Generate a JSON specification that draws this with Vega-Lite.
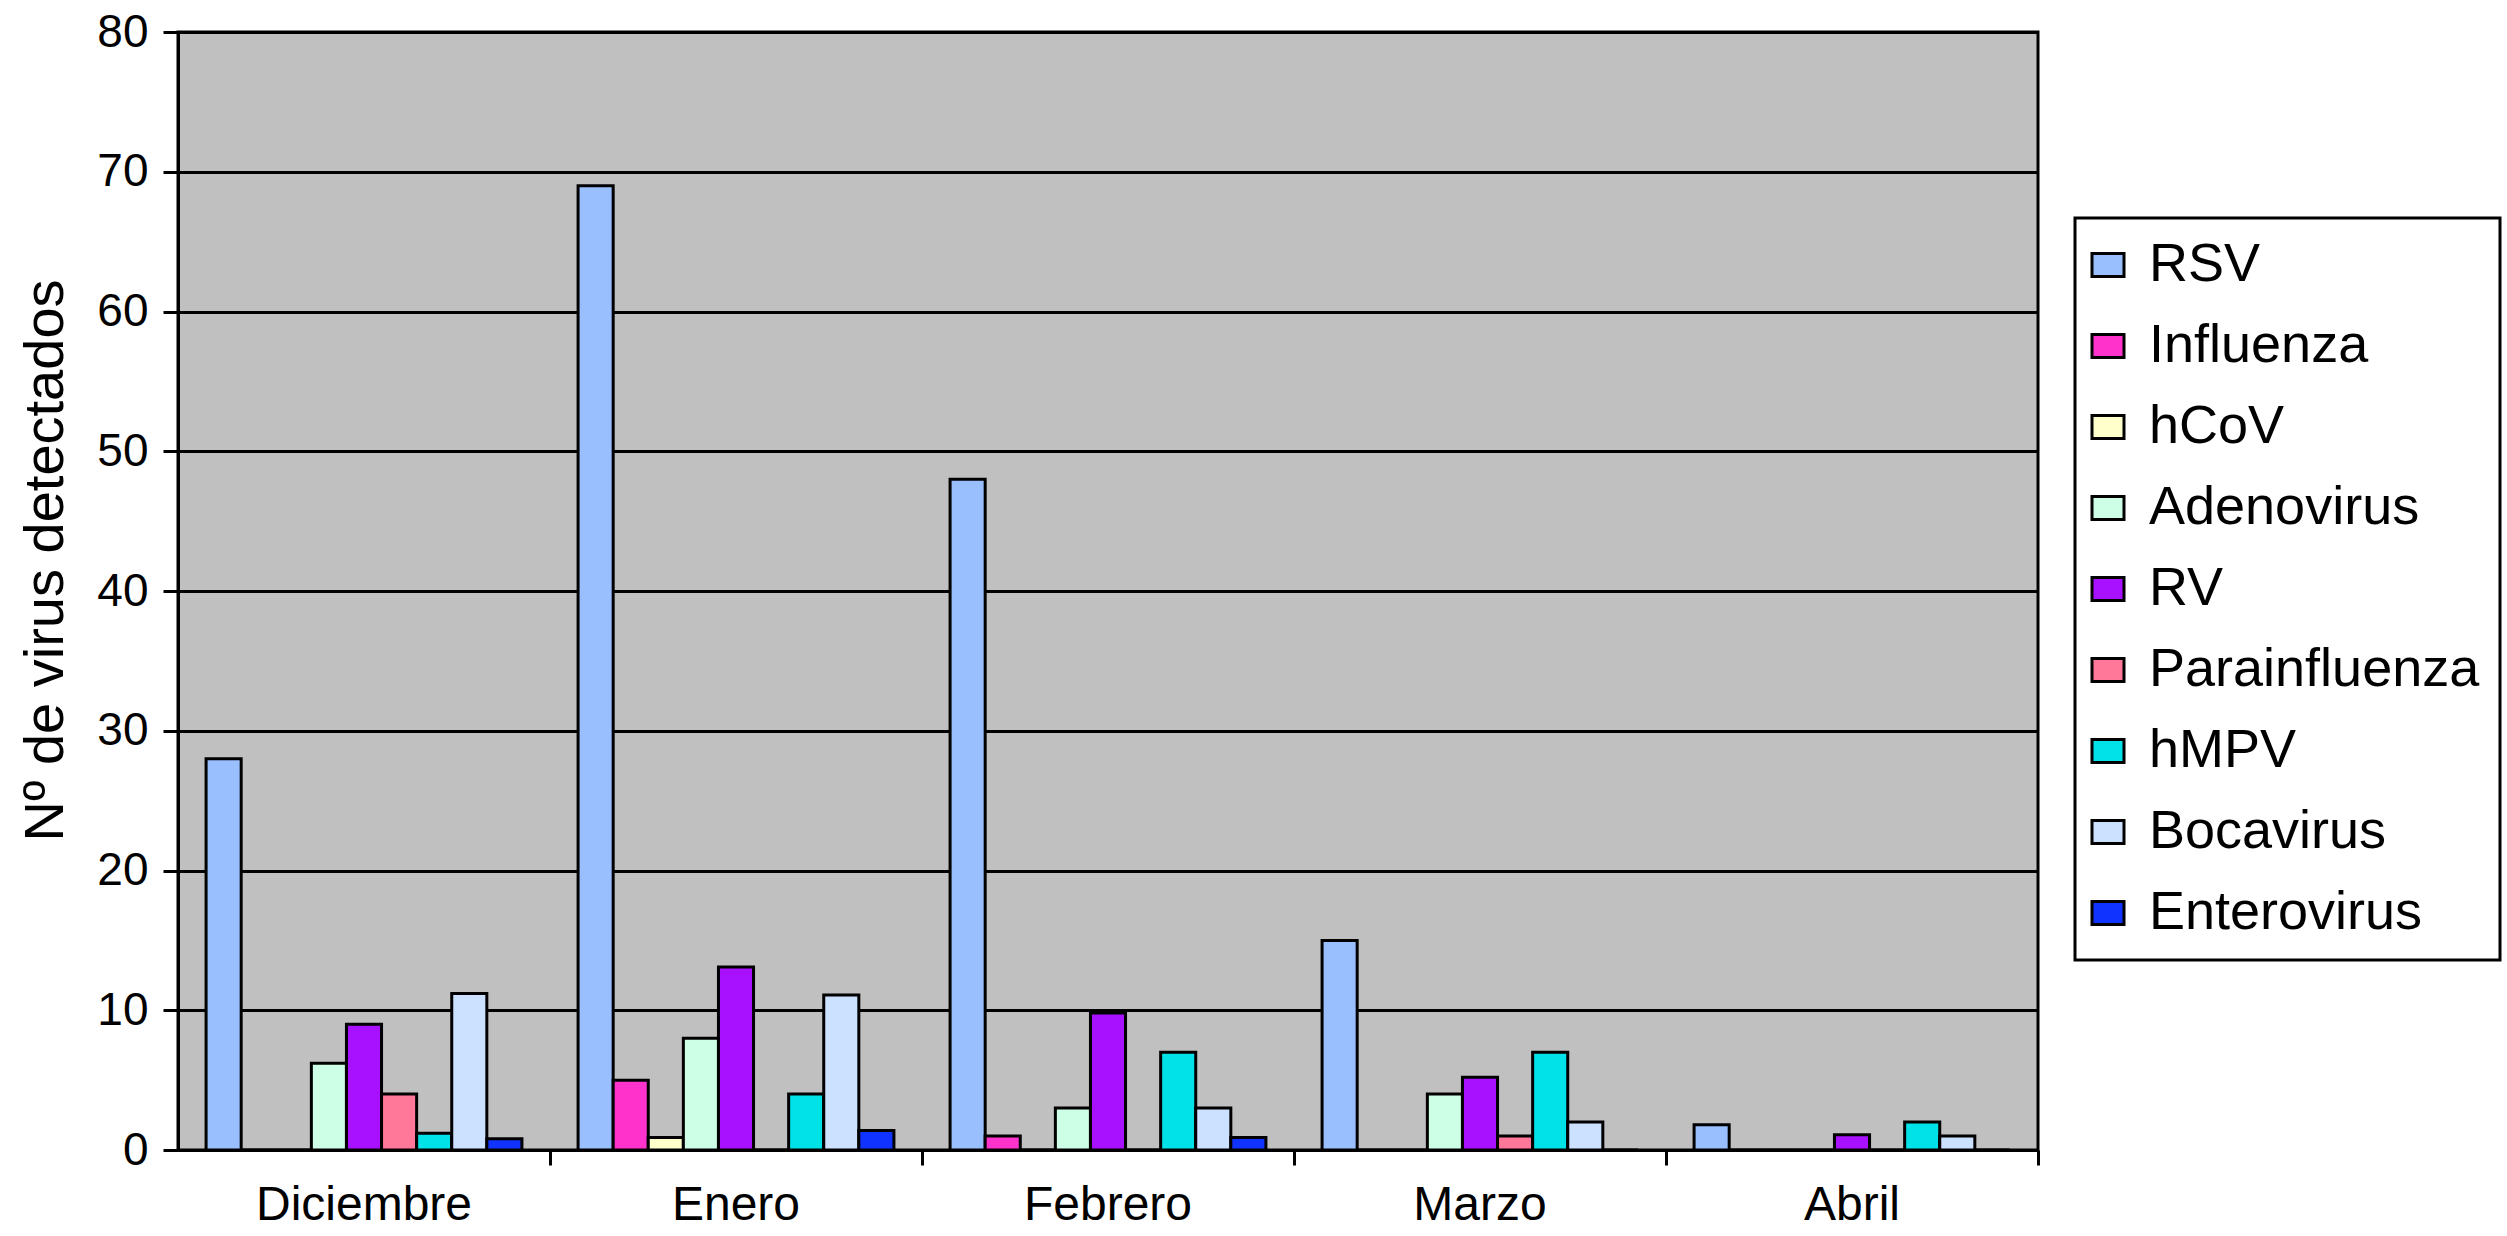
{
  "$schema": "https://vega.github.io/schema/vega-lite/v6.json",
  "autosize": {"type": "none"},
  "padding": {"left": 178, "top": 32, "right": 469, "bottom": 86},
  "width": 1860,
  "height": 1118,
  "background": "white",
  "config": {
    "font": "Liberation Sans",
    "view": {"fill": "#C0C0C0", "stroke": "black", "strokeWidth": 3}
  },
  "data": {
    "values": [
      {"mes": "Diciembre", "virus": "RSV", "n": 28},
      {"mes": "Diciembre", "virus": "Influenza", "n": 0},
      {"mes": "Diciembre", "virus": "hCoV", "n": 0},
      {"mes": "Diciembre", "virus": "Adenovirus", "n": 6.2},
      {"mes": "Diciembre", "virus": "RV", "n": 9},
      {"mes": "Diciembre", "virus": "Parainfluenza", "n": 4},
      {"mes": "Diciembre", "virus": "hMPV", "n": 1.2},
      {"mes": "Diciembre", "virus": "Bocavirus", "n": 11.2},
      {"mes": "Diciembre", "virus": "Enterovirus", "n": 0.8},
      {"mes": "Enero", "virus": "RSV", "n": 69},
      {"mes": "Enero", "virus": "Influenza", "n": 5},
      {"mes": "Enero", "virus": "hCoV", "n": 0.9},
      {"mes": "Enero", "virus": "Adenovirus", "n": 8},
      {"mes": "Enero", "virus": "RV", "n": 13.1},
      {"mes": "Enero", "virus": "Parainfluenza", "n": 0},
      {"mes": "Enero", "virus": "hMPV", "n": 4},
      {"mes": "Enero", "virus": "Bocavirus", "n": 11.1},
      {"mes": "Enero", "virus": "Enterovirus", "n": 1.4},
      {"mes": "Febrero", "virus": "RSV", "n": 48},
      {"mes": "Febrero", "virus": "Influenza", "n": 1},
      {"mes": "Febrero", "virus": "hCoV", "n": 0},
      {"mes": "Febrero", "virus": "Adenovirus", "n": 3},
      {"mes": "Febrero", "virus": "RV", "n": 9.8},
      {"mes": "Febrero", "virus": "Parainfluenza", "n": 0},
      {"mes": "Febrero", "virus": "hMPV", "n": 7},
      {"mes": "Febrero", "virus": "Bocavirus", "n": 3},
      {"mes": "Febrero", "virus": "Enterovirus", "n": 0.9},
      {"mes": "Marzo", "virus": "RSV", "n": 15},
      {"mes": "Marzo", "virus": "Influenza", "n": 0},
      {"mes": "Marzo", "virus": "hCoV", "n": 0},
      {"mes": "Marzo", "virus": "Adenovirus", "n": 4},
      {"mes": "Marzo", "virus": "RV", "n": 5.2},
      {"mes": "Marzo", "virus": "Parainfluenza", "n": 1},
      {"mes": "Marzo", "virus": "hMPV", "n": 7},
      {"mes": "Marzo", "virus": "Bocavirus", "n": 2},
      {"mes": "Marzo", "virus": "Enterovirus", "n": 0},
      {"mes": "Abril", "virus": "RSV", "n": 1.8},
      {"mes": "Abril", "virus": "Influenza", "n": 0},
      {"mes": "Abril", "virus": "hCoV", "n": 0},
      {"mes": "Abril", "virus": "Adenovirus", "n": 0},
      {"mes": "Abril", "virus": "RV", "n": 1.1},
      {"mes": "Abril", "virus": "Parainfluenza", "n": 0},
      {"mes": "Abril", "virus": "hMPV", "n": 2},
      {"mes": "Abril", "virus": "Bocavirus", "n": 1},
      {"mes": "Abril", "virus": "Enterovirus", "n": 0}
    ]
  },
  "mark": {"type": "bar", "stroke": "black", "strokeWidth": 3, "opacity": 1},
  "encoding": {
    "x": {
      "field": "mes",
      "type": "nominal",
      "sort": ["Diciembre", "Enero", "Febrero", "Marzo", "Abril"],
      "scale": {"paddingInner": 0, "paddingOuter": 0},
      "axis": {
        "title": null,
        "labelAngle": 0,
        "bandPosition": 1,
        "labelFontSize": 48,
        "labelLimit": 500,
        "labelColor": "black",
        "labelPadding": 16,
        "tickColor": "black",
        "tickWidth": 3,
        "tickSize": 15,
        "domainColor": "black",
        "domainWidth": 3,
        "grid": false
      }
    },
    "xOffset": {
      "field": "virus",
      "type": "nominal",
      "sort": ["RSV", "Influenza", "hCoV", "Adenovirus", "RV", "Parainfluenza", "hMPV", "Bocavirus", "Enterovirus"],
      "scale": {"paddingInner": 0, "paddingOuter": 0.8}
    },
    "y": {
      "field": "n",
      "type": "quantitative",
      "scale": {"domain": [0, 80], "nice": false},
      "axis": {
        "title": "Nº de virus detectados",
        "titleFontSize": 56,
        "titleFontWeight": "normal",
        "titleColor": "black",
        "titlePadding": 22,
        "titleY": 528,
        "values": [0, 10, 20, 30, 40, 50, 60, 70, 80],
        "labelFontSize": 46,
        "labelColor": "black",
        "labelPadding": 15,
        "tickColor": "black",
        "tickWidth": 3,
        "tickSize": 15,
        "domainColor": "black",
        "domainWidth": 3,
        "grid": true,
        "gridColor": "black",
        "gridWidth": 3,
        "gridOpacity": 1
      }
    },
    "color": {
      "field": "virus",
      "type": "nominal",
      "sort": ["RSV", "Influenza", "hCoV", "Adenovirus", "RV", "Parainfluenza", "hMPV", "Bocavirus", "Enterovirus"],
      "scale": {
        "domain": ["RSV", "Influenza", "hCoV", "Adenovirus", "RV", "Parainfluenza", "hMPV", "Bocavirus", "Enterovirus"],
        "range": ["#99BFFF", "#FF33CC", "#FFFFCC", "#CCFFE5", "#A811FF", "#FF7799", "#00E2E8", "#CCE0FF", "#1133FF"]
      },
      "legend": {
        "title": null,
        "orient": "none",
        "legendX": 1897,
        "legendY": 186,
        "direction": "vertical",
        "padding": 20,
        "strokeColor": "black",
        "symbolType": "M-1,-0.72H1V0.72H-1Z",
        "symbolSize": 1024,
        "symbolOffset": -14,
        "symbolStrokeColor": "black",
        "symbolStrokeWidth": 3,
        "symbolOpacity": 1,
        "labelFontSize": 54,
        "labelColor": "black",
        "labelOffset": 14,
        "labelLimit": 600,
        "rowPadding": 27,
        "encode": {"legend": {"update": {"strokeWidth": {"value": 3}}}}
      }
    }
  }
}
